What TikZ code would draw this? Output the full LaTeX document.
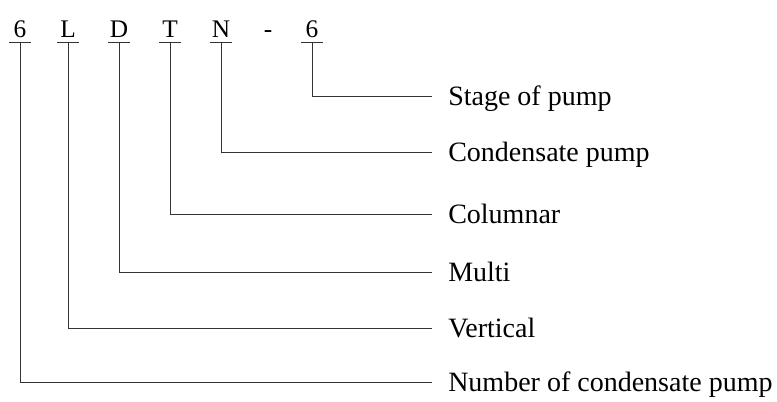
\documentclass[tikz,border=0pt]{standalone}
\usepackage{fontspec}
\setmainfont{Liberation Serif}
\usepackage{tikz}

\begin{document}
\begin{tikzpicture}[x=0.75pt, y=-0.75pt,
  leader/.style={line width=0.6pt, draw=black!80},
  code/.style={inner sep=0pt, minimum width=15.75pt, anchor=south,
    text height=13pt, text depth=3pt, font=\fontsize{19}{22}\selectfont},
  meaning/.style={inner sep=0pt, anchor=west, text height=14pt,
    text depth=0pt, font=\fontsize{21}{24}\selectfont}
  ]
  \useasboundingbox (0,0) rectangle (777,402);
  % model code
  \node[code] (c1) at (20,42) {6};
  \node[code] (c2) at (68,42) {L};
  \node[code] (c3) at (119,42) {D};
  \node[code] (c4) at (170,42) {T};
  \node[code] (c5) at (221,42) {N};
  \node[code] (dash) at (268,42) {-};
  \node[code] (c6) at (312,42) {6};
  % meanings
  \node[meaning] (m6) at (448,96) {Stage of pump};
  \node[meaning] (m5) at (448,152) {Condensate pump};
  \node[meaning] (m4) at (448,214) {Columnar};
  \node[meaning] (m3) at (448,272) {Multi};
  \node[meaning] (m2) at (448,328) {Vertical};
  \node[meaning] (m1) at (448,382) {Number of condensate pump};
  % underlines and leaders
  \foreach \i in {1,...,6}{
    \draw[leader] (c\i.south west) -- (c\i.south east);
    \draw[leader] (c\i.south) |- ([xshift=-12pt]m\i.west);
  }
\end{tikzpicture}
\end{document}
